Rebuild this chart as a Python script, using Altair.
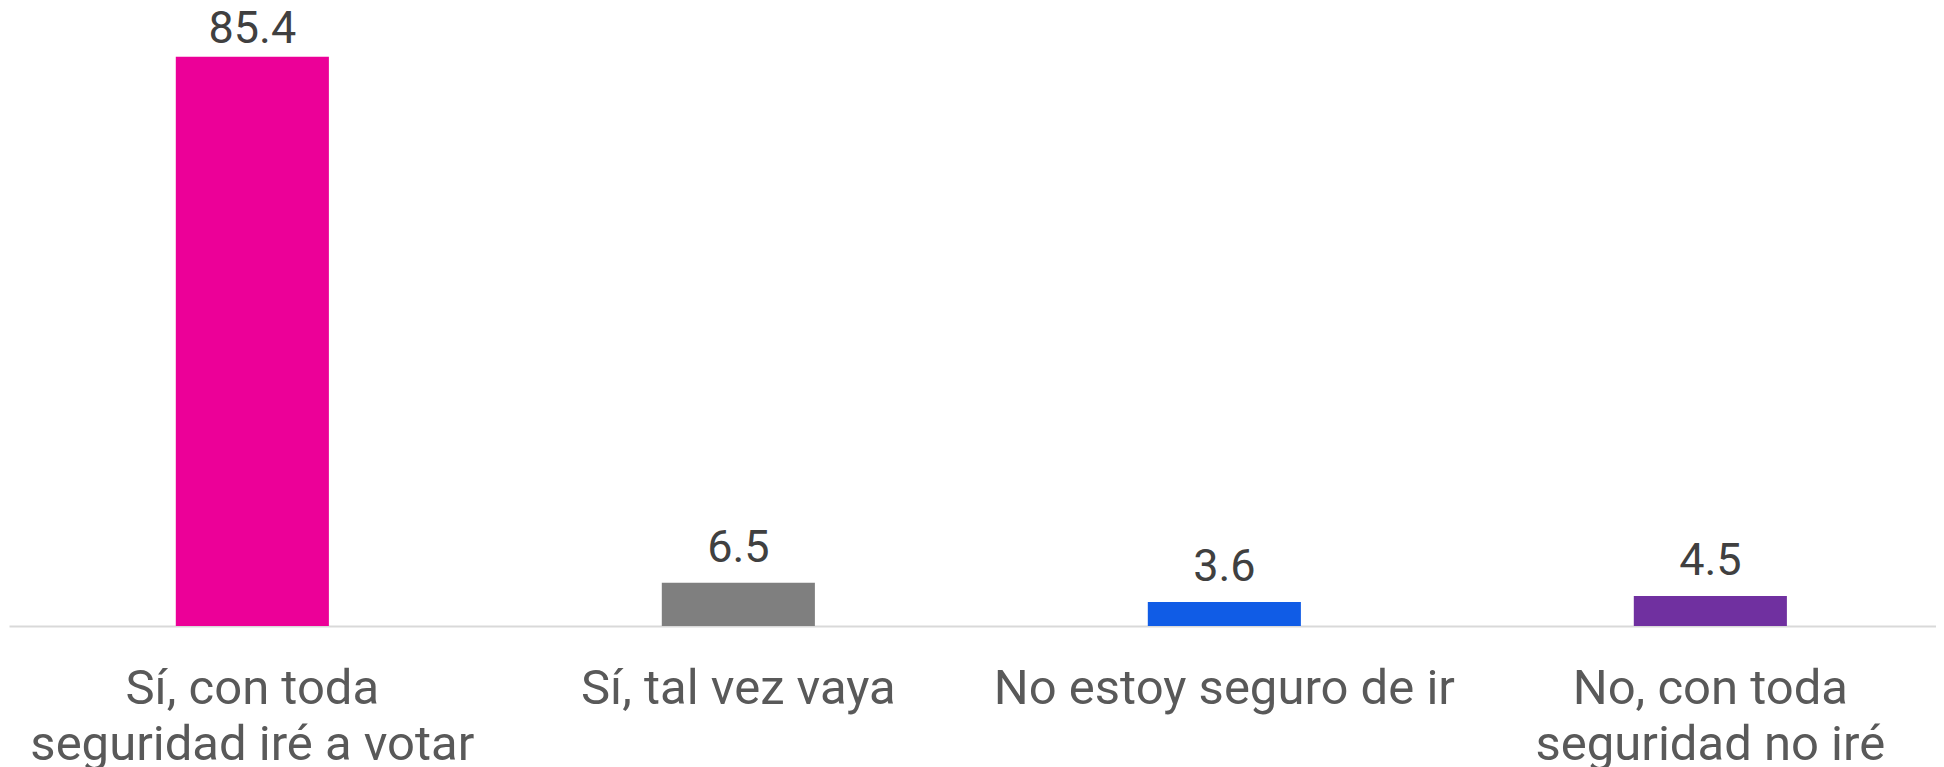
import altair as alt
import pandas as pd

categories = [
    "Sí, con toda\nseguridad iré a votar",
    "Sí, tal vez vaya",
    "No estoy seguro de ir",
    "No, con toda\nseguridad no iré",
]
values = [85.4, 6.5, 3.6, 4.5]
colors = ["#EC0098", "#7F7F7F", "#105CE6", "#7030A0"]

df = pd.DataFrame({"cat": categories, "val": values})

x_enc = alt.X(
    "cat:N",
    sort=categories,
    scale=alt.Scale(paddingInner=0.685, paddingOuter=0.325, align=0.528),
    axis=alt.Axis(
        title=None,
        labelExpr="split(datum.label, '\\n')",
        labelAngle=0,
        labelFont="Roboto",
        labelFontSize=49,
        labelColor="#595959",
        labelLineHeight=56,
        labelPadding=38,
        labelLimit=0,
        ticks=False,
        domainColor="#D9D9D9",
        domainWidth=2,
        grid=False,
    ),
)
y_scale = alt.Scale(domain=[0, 90])

base = alt.Chart(df).encode(x=x_enc)

bars = base.mark_bar().encode(
    y=alt.Y("val:Q", scale=y_scale, axis=None),
    color=alt.Color("cat:N", scale=alt.Scale(domain=categories, range=colors), legend=None),
)

text_small = base.transform_filter("datum.val < 50").mark_text(
    dy=-21, baseline="alphabetic", fontSize=45, font="Roboto", color="#404040"
).encode(
    y=alt.Y("val:Q", scale=y_scale, axis=None),
    text=alt.Text("val:Q", format=".1f"),
)

text_big = base.transform_filter("datum.val >= 50").mark_text(
    dy=-14, baseline="alphabetic", fontSize=45, font="Roboto", color="#404040"
).encode(
    y=alt.Y("val:Q", scale=y_scale, axis=None),
    text=alt.Text("val:Q", format=".1f"),
)

chart = (
    (bars + text_small + text_big)
    .properties(
        width=1927,
        height=600,
        padding={"left": 1, "top": 18, "right": 0, "bottom": 141},
        autosize=alt.AutoSizeParams(type="none"),
    )
    .configure_view(stroke=None)
)

chart.save("out.html", embed_options={"renderer": "svg", "actions": False})
